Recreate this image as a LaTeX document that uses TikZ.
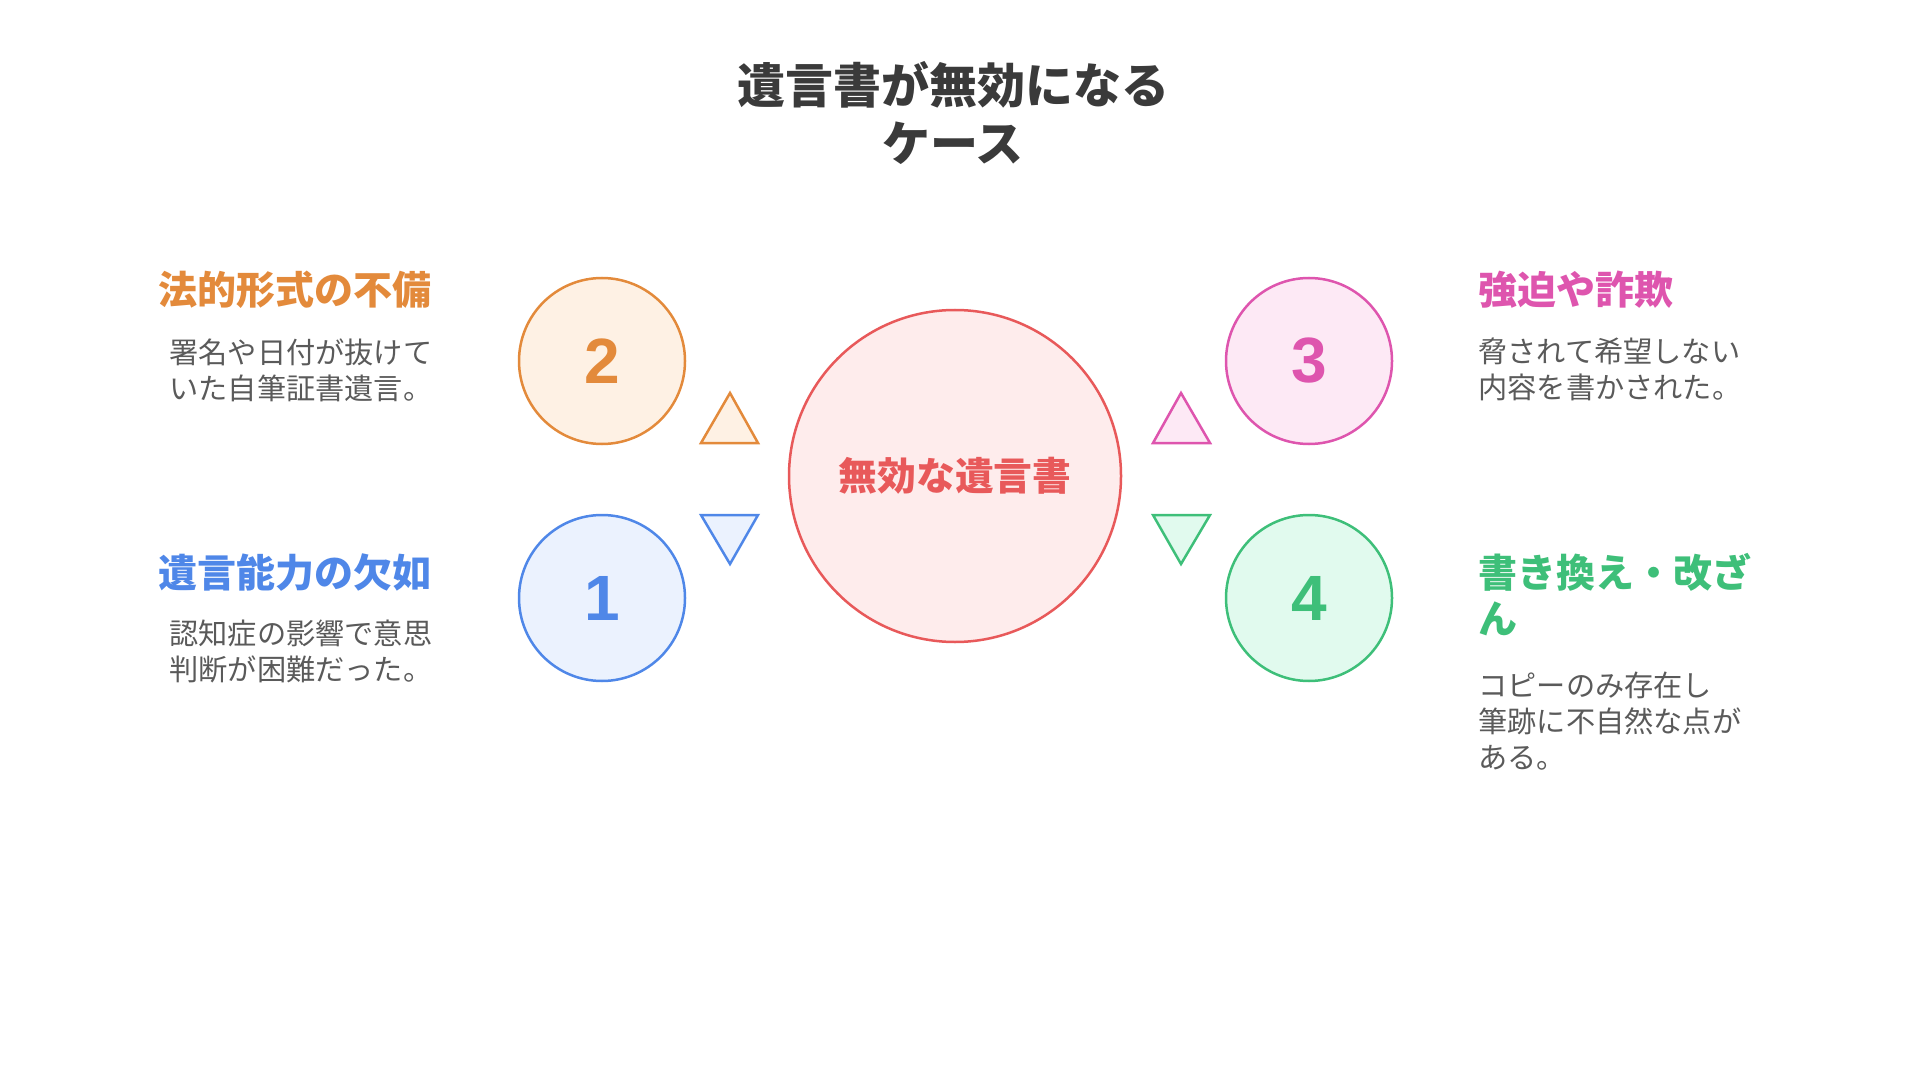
\documentclass[tikz,border=0pt]{standalone}
\usepackage{fontspec}
\setmainfont{Noto Sans CJK JP}
\newfontfamily\numfont{Liberation Sans}
\definecolor{hubred}{HTML}{E8595A}
\definecolor{hubfill}{HTML}{FEECEC}
\definecolor{orng}{HTML}{E38A3B}
\definecolor{orngfill}{HTML}{FEF1E4}
\definecolor{blu}{HTML}{4F87E8}
\definecolor{blufill}{HTML}{EBF2FE}
\definecolor{pnk}{HTML}{DE55AE}
\definecolor{pnkfill}{HTML}{FDE9F5}
\definecolor{grn}{HTML}{3EBF79}
\definecolor{grnfill}{HTML}{E1FAEE}
\definecolor{txtgray}{HTML}{5A5A5A}
\definecolor{titlegray}{HTML}{3A3A3A}
\begin{document}
\begin{tikzpicture}[x=0.5pt,y=-0.5pt,
  numcirc/.style={circle,draw,line width=1.25pt,minimum size=83pt,inner sep=0pt,font=\numfont\fontsize{32}{32}\selectfont\bfseries},
  head/.style={anchor=west,inner sep=0pt,align=left,font=\fontsize{19.5}{23}\selectfont\bfseries},
  desc/.style={anchor=north west,inner sep=0pt,align=left,text=txtgray,font=\fontsize{14.6}{18}\selectfont},
  tri/.style={line width=1.25pt,line join=miter}]
\useasboundingbox (0,0) rectangle (1920,1080);

\node [align=center,text=titlegray,font=\fontsize{24}{29}\selectfont\bfseries] (title) at (953,113) {遺言書が無効になる\\ケース};

\node [circle,draw=hubred,fill=hubfill,line width=1.25pt,minimum size=166pt,inner sep=0pt,text=hubred,font=\fontsize{19.4}{23}\selectfont\bfseries] (hub) at (955,476) {無効な遺言書};

\node [numcirc,draw=orng,fill=orngfill,text=orng] (c2) at (602,361) {2};
\node [numcirc,draw=blu,fill=blufill,text=blu] (c1) at (602,598) {1};
\node [numcirc,draw=pnk,fill=pnkfill,text=pnk] (c3) at (1309,361) {3};
\node [numcirc,draw=grn,fill=grnfill,text=grn] (c4) at (1309,598) {4};

% triangles between the small circles and the hub
\draw [tri,draw=orng,fill=orngfill] (701,443) -- (730,393) -- (758,443) -- cycle;
\draw [tri,draw=blu,fill=blufill] (701,515) -- (758,515) -- (730,564) -- cycle;
\draw [tri,draw=pnk,fill=pnkfill] (1153,443) -- (1181,393) -- (1210,443) -- cycle;
\draw [tri,draw=grn,fill=grnfill] (1153,515) -- (1210,515) -- (1181,564) -- cycle;

\node [head,text=orng] (h2) at (158,290) {法的形式の不備};
\node [desc] (d2) at (169,338) {署名や日付が抜けて\\いた自筆証書遺言。};
\node [head,text=blu] (h1) at (158,573) {遺言能力の欠如};
\node [desc] (d1) at (169,620) {認知症の影響で意思\\判断が困難だった。};

\node [head,text=pnk] (h3) at (1478,290) {強迫や詐欺};
\node [desc] (d3) at (1478,338) {脅されて希望しない\\内容を書かされた。};
\node [head,anchor=north west,text=grn] (h4) at (1478,553) {書き換え・改ざ\\ん};
\node [desc] (d4) at (1478,672) {コピーのみ存在し\\筆跡に不自然な点が\\ある。};
\end{tikzpicture}
\end{document}
